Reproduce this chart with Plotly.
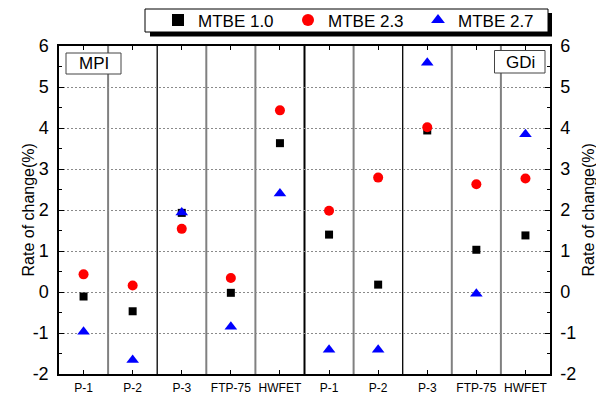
import plotly.graph_objects as go

# Driving cycles for the two engine types (MPI left half, GDi right half)
cycles = ["P-1", "P-2", "P-3", "FTP-75", "HWFET"]
tick_labels = cycles + cycles
positions = list(range(len(tick_labels)))
y_ticks = list(range(-2, 7))
y_tick_text = [str(v) for v in y_ticks]

# Rate of change (%) per fuel blend: first five = MPI, last five = GDi
mtbe_10 = [-0.11, -0.47, 1.93, -0.02, 3.63, 1.40, 0.18, 3.94, 1.03, 1.38]
mtbe_23 = [0.43, 0.16, 1.54, 0.34, 4.43, 1.98, 2.79, 4.02, 2.63, 2.77]
mtbe_27 = [-0.97, -1.66, 1.94, -0.85, 2.40, -1.41, -1.41, 5.59, -0.04, 3.85]

FONT = "Liberation Sans, Arial, sans-serif"
Y_TITLE = "Rate of change(%)"

fig = go.Figure()
fig.add_trace(go.Scatter(x=positions, y=mtbe_10, mode="markers", name="MTBE 1.0",
                         marker=dict(symbol="square", size=8, color="black")))
fig.add_trace(go.Scatter(x=positions, y=mtbe_23, mode="markers", name="MTBE 2.3",
                         marker=dict(symbol="circle", size=10, color="#ff0000")))
fig.add_trace(go.Scatter(x=positions, y=mtbe_27, mode="markers", name="MTBE 2.7",
                         marker=dict(symbol="triangle-up", size=11, color="#0000ff"),
                         yaxis="y2"))

# Category separators: alternating grey / black, heavy black between MPI and GDi
shapes = []
for i in range(len(positions) - 1):
    b = i + 0.5
    if i == 4:
        color, width = "black", 2
    elif i in (1, 6):
        color, width = "black", 1.3
    else:
        color, width = "#808080", 2
    shapes.append(dict(type="line", xref="x", yref="paper", x0=b, x1=b, y0=0, y1=1,
                       line=dict(color=color, width=width), layer="below"))

L, R, T, B = 59, 46, 46, 21
W, H = 596, 395
pw, ph = W - L - R, H - T - B


def px(x):
    return (x - L) / pw


def py(y):
    return (H - B - y) / ph


# Legend frame with a drop shadow
shapes.append(dict(type="rect", xref="paper", yref="paper",
                   x0=px(150), x1=px(552), y0=py(36.5), y1=py(13),
                   fillcolor="black", line=dict(width=0), layer="above"))
shapes.append(dict(type="rect", xref="paper", yref="paper",
                   x0=px(145), x1=px(548), y0=py(32), y1=py(9),
                   fillcolor="white", line=dict(color="black", width=1), layer="above"))
# Frames around the panel labels
shapes.append(dict(type="rect", xref="paper", yref="paper",
                   x0=px(66), x1=px(121), y0=py(74), y1=py(53),
                   line=dict(color="#444", width=1), fillcolor="white", layer="below"))
shapes.append(dict(type="rect", xref="paper", yref="paper",
                   x0=px(494.5), x1=px(545), y0=py(73), y1=py(50.5),
                   line=dict(color="#444", width=1), fillcolor="white", layer="below"))

title_font = dict(family=FONT, size=16, color="black")
annotations = [
    dict(text="MPI", xref="paper", yref="paper", x=px(93.5), y=py(63.5),
         showarrow=False, font=dict(family=FONT, size=17, color="black"),
         xanchor="center", yanchor="middle"),
    dict(text="GDi", xref="paper", yref="paper", x=px(520), y=py(62),
         showarrow=False, font=dict(family=FONT, size=17, color="black"),
         xanchor="center", yanchor="middle"),
    # Axis titles on both sides
    dict(text=Y_TITLE, xref="paper", yref="paper", x=px(27.5), y=0.5, textangle=-90,
         showarrow=False, font=title_font, xanchor="center", yanchor="middle"),
    dict(text=Y_TITLE, xref="paper", yref="paper", x=px(587.5), y=0.5, textangle=-90,
         showarrow=False, font=title_font, xanchor="center", yanchor="middle"),
]

yax = dict(range=[-2, 6], tickvals=y_ticks, ticktext=y_tick_text, ticks="inside",
           ticklen=5, tickwidth=1, tickcolor="black", showline=True, linecolor="black",
           linewidth=1.5, zeroline=False, automargin=False,
           minor=dict(dtick=0.5, ticks="inside", ticklen=3, tickcolor="black",
                      showgrid=False),
           tickfont=dict(family=FONT, size=18, color="black"),
           ticklabelstandoff=5)

fig.update_layout(
    width=W, height=H, autosize=False,
    margin=dict(l=L, r=R, t=T, b=B, pad=0, autoexpand=False),
    plot_bgcolor="white", paper_bgcolor="white",
    font=dict(family=FONT, color="black"),
    xaxis=dict(range=[-0.5, 9.5], tickvals=positions, ticktext=tick_labels,
               ticks="inside", ticklen=4, tickcolor="black", showgrid=False,
               showline=True, linecolor="black", linewidth=1.5, mirror="ticks",
               zeroline=False, automargin=False, ticklabelstandoff=2,
               tickfont=dict(family=FONT, size=12, color="black")),
    yaxis=dict(**yax, side="left", showgrid=True, gridcolor="#8a8a8a",
               griddash="2px,2px", gridwidth=1),
    yaxis2=dict(**yax, side="right", overlaying="y", showgrid=False),
    legend=dict(orientation="h", x=px(158), xanchor="left", y=py(20.5),
                yanchor="middle", bgcolor="rgba(0,0,0,0)", borderwidth=0,
                font=dict(family=FONT, size=17, color="black"),
                entrywidth=85, entrywidthmode="pixels", itemsizing="constant"),
    shapes=shapes,
    annotations=annotations,
)

fig.write_html("out.html")
